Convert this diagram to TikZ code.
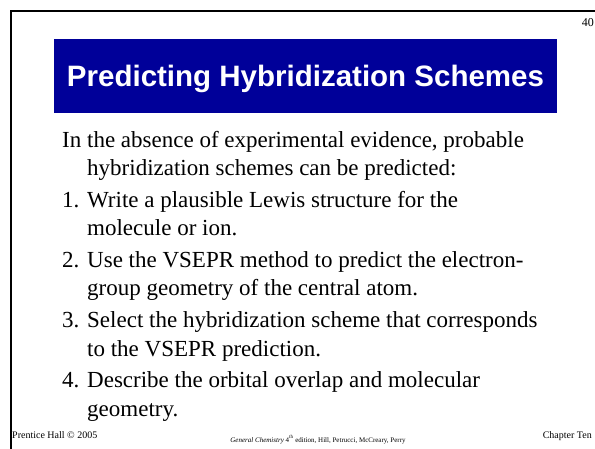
\documentclass[tikz,border=0pt]{standalone}
\usepackage{fontspec}
\setmainfont{Liberation Serif}
\newfontfamily\titlefont{Liberation Sans}
\definecolor{slideblue}{HTML}{000099}
\begin{document}
\begin{tikzpicture}[x=1pt,y=-1pt,
  body/.style={anchor=base west,inner sep=0pt,font=\fontsize{23}{27}\selectfont},
  foot/.style={inner sep=0pt,font=\fontsize{10}{12}\selectfont}]
\useasboundingbox (0,0) rectangle (595,449);
\fill[white] (0,0) rectangle (595,449);
\draw[line width=2.6pt] (11,449) -- (11,11) -- (596,11);
\node[anchor=base east,inner sep=0pt,font=\fontsize{12}{14}\selectfont] (pg) at (594,27) {40};
\fill[slideblue] (54,39) rectangle (557,113);
\node[text=white,inner sep=0pt,font=\titlefont\bfseries\fontsize{29.5}{34}\selectfont,anchor=base] (title) at (305.5,87) {Predicting Hybridization Schemes};
\node[body] (l0) at (62,148) {In the absence of experimental evidence, probable};
\node[body] (l1) at (87,176) {hybridization schemes can be predicted:};
\node[body] (n1) at (62,208) {1.};
\node[body] (l2) at (87,208) {Write a plausible Lewis structure for the};
\node[body] (l3) at (87,236) {molecule or ion.};
\node[body] (n2) at (62,268) {2.};
\node[body] (l4) at (87,268) {Use the VSEPR method to predict the electron-};
\node[body] (l5) at (87,296) {group geometry of the central atom.};
\node[body] (n3) at (62,328) {3.};
\node[body] (l6) at (87,328) {Select the hybridization scheme that corresponds};
\node[body] (l7) at (87,356) {to the VSEPR prediction.};
\node[body] (n4) at (62,388) {4.};
\node[body] (l8) at (87,388) {Describe the orbital overlap and molecular};
\node[body] (l9) at (87,416) {geometry.};
\node[foot,anchor=base west] (f1) at (12,438) {Prentice Hall © 2005};
\node[inner sep=0pt,anchor=base,font=\fontsize{7}{8}\selectfont] (f2) at (318,442) {\textit{General Chemistry} 4\textsuperscript{th} edition, Hill, Petrucci, McCreary, Perry};
\node[foot,anchor=base east] (f3) at (592,438) {Chapter Ten};
\end{tikzpicture}
\end{document}
